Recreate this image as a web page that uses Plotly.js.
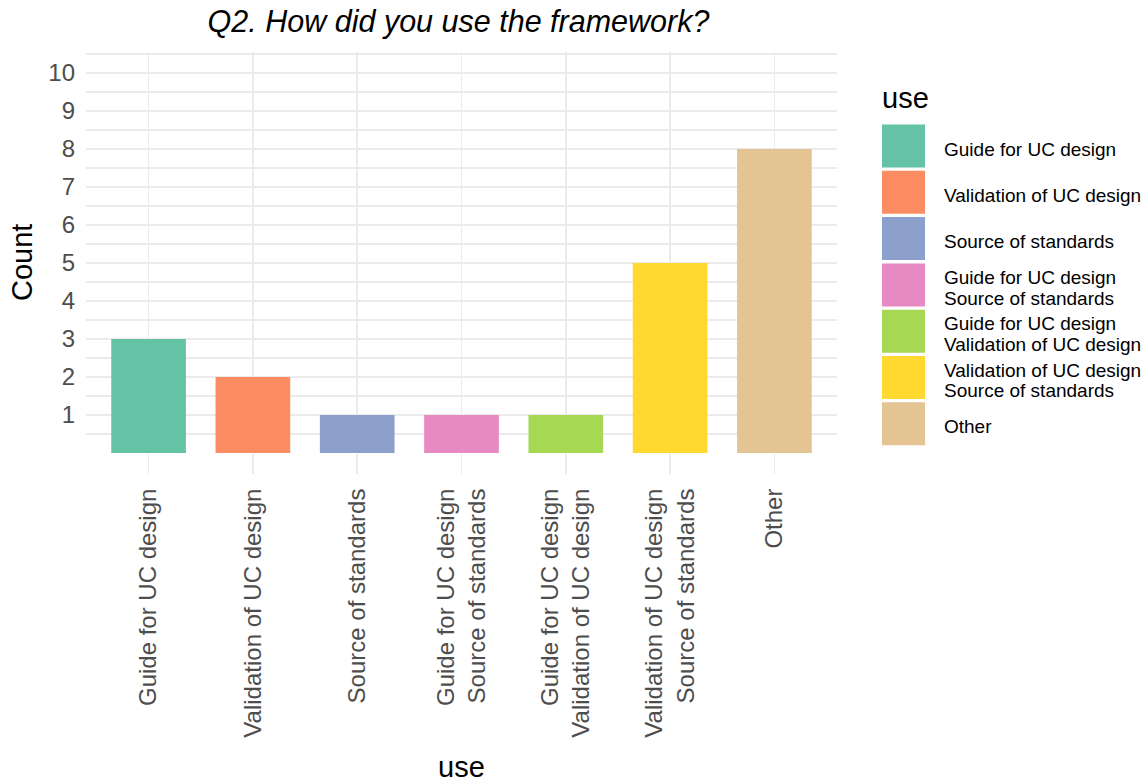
<!DOCTYPE html>
<html>
<head>
<meta charset="utf-8">
<script src="https://cdn.plot.ly/plotly-3.0.1.min.js"></script>
<style>html,body{margin:0;padding:0;background:#fff;}#chart{width:1145px;height:784px;}</style>
</head>
<body>
<div id="chart"></div>
<script>
// ---- data ----
var categories = [
  "Guide for UC design",
  "Validation of UC design",
  "Source of standards",
  "Guide for UC design\nSource of standards",
  "Guide for UC design\nValidation of UC design",
  "Validation of UC design\nSource of standards",
  "Other"
];
var counts = [3, 2, 1, 1, 1, 5, 8];
var colors = ["#66C2A5", "#FC8D62", "#8DA0CB", "#E78AC3", "#A6D854", "#FFD92F", "#E5C494"];
var yTickVals = [1, 2, 3, 4, 5, 6, 7, 8, 9, 10];
var titleText = "Q2. How did you use the framework?";
var xTitle = "use";
var yTitle = "Count";
var legendTitle = "use";

// ---- layout geometry (pixels) ----
var W = 1145, H = 784;
var plotL = 86, plotR = 837, plotT = 52, plotB = 453;
var FONT = "Liberation Sans, Arial, sans-serif";
function px2x(p) { return (p - plotL) / (plotR - plotL); }
function px2y(p) { return (plotB - p) / (plotB - plotT); }

var xLabels = categories.map(function (c) { return c.replace(/\n/g, "<br>"); });

var trace = {
  type: "bar",
  x: xLabels,
  y: counts,
  width: 0.716,
  marker: { color: colors, line: { width: 0 } },
  hoverinfo: "x+y",
  showlegend: false
};

// minor gridlines every 0.5
var minorVals = [];
for (var v = 0; v <= 10.5; v += 0.5) { if (v % 1 !== 0 || v === 0) minorVals.push(v); }

var shapes = [], annotations = [];

// y axis title (placed like ggplot's)
annotations.push({
  xref: "paper", yref: "paper", x: px2x(22), y: px2y(263),
  xanchor: "center", yanchor: "middle", showarrow: false, textangle: -90,
  text: yTitle, font: { family: FONT, size: 29, color: "#000" }
});

// custom legend (large keys like ggplot)
var keyLeft = 882, keyRight = 925, keyTop0 = 124.5, keyStep = 46.3, keyH = 43;
var textLeft = 942, lineGap = 20.5;
annotations.push({
  xref: "paper", yref: "paper", x: px2x(880), y: px2y(98),
  xanchor: "left", yanchor: "middle", showarrow: false,
  text: legendTitle, font: { family: FONT, size: 29, color: "#000" }
});
categories.forEach(function (c, i) {
  var top = keyTop0 + i * keyStep;
  shapes.push({
    type: "rect", xref: "paper", yref: "paper",
    x0: px2x(keyLeft), x1: px2x(keyRight), y0: px2y(top), y1: px2y(top + keyH),
    fillcolor: colors[i], line: { width: 0 }
  });
  var lines = c.split("\n");
  var mid = top + keyH / 2 + 3;
  lines.forEach(function (ln, j) {
    var cy = mid + (j - (lines.length - 1) / 2) * lineGap;
    annotations.push({
      xref: "paper", yref: "paper", x: px2x(textLeft), y: px2y(cy),
      xanchor: "left", yanchor: "middle", showarrow: false,
      text: ln, font: { family: FONT, size: 19, color: "#000" }
    });
  });
});

var layout = {
  width: W, height: H,
  margin: { l: plotL, r: W - plotR, t: plotT, b: H - plotB, pad: 0 },
  paper_bgcolor: "#fff", plot_bgcolor: "#fff",
  font: { family: FONT, color: "#000" },
  title: {
    text: titleText,
    font: { family: FONT, size: 30.5, color: "#000", style: "italic" },
    xref: "container", x: 458.5 / W, xanchor: "center",
    yref: "container", y: 1 - 11 / H, yanchor: "top"
  },
  xaxis: {
    type: "category",
    range: [-0.6, 6.6],
    tickangle: -90,
    tickfont: { family: FONT, size: 24, color: "#4d4d4d" },
    ticks: "outside", ticklen: 20, tickcolor: "#ebebeb", tickwidth: 1.5,
    ticklabelstandoff: 5,
    showgrid: true, gridcolor: "#ebebeb", gridwidth: 1.5,
    zeroline: false, showline: false,
    title: { text: xTitle, font: { family: FONT, size: 29, color: "#000" }, standoff: 20 },
    automargin: false, fixedrange: true
  },
  yaxis: {
    range: [0, 10.55],
    tickmode: "array", tickvals: yTickVals,
    tickfont: { family: FONT, size: 24, color: "#4d4d4d" },
    ticks: "", ticklabelstandoff: 10,
    showgrid: true, gridcolor: "#ebebeb", gridwidth: 1.5,
    minor: { tickmode: "array", tickvals: minorVals, showgrid: true, gridcolor: "#ebebeb", gridwidth: 1.2, ticks: "" },
    zeroline: false, showline: false,
    automargin: false, fixedrange: true
  },
  shapes: shapes,
  annotations: annotations,
  bargap: 0.28
};

Plotly.newPlot("chart", [trace], layout, { displayModeBar: false, staticPlot: true });
</script>
</body>
</html>
